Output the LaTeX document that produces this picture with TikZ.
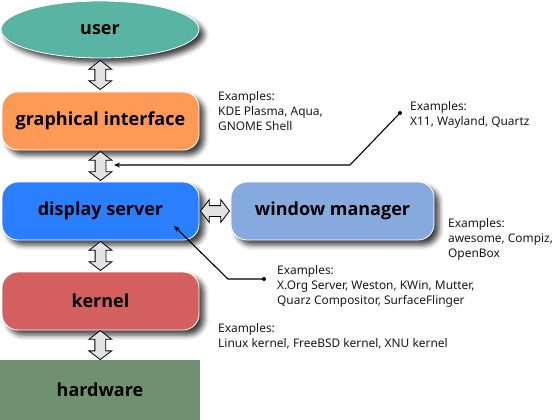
\documentclass[tikz,border=0pt]{standalone}
\usepackage{fontspec}
\setmainfont{Noto Sans}
\newfontfamily\labelfont{Open Sans}
\usetikzlibrary{shapes.geometric,shapes.arrows,shadows.blur,calc,arrows.meta}

\definecolor{userteal}{HTML}{5AB4A3}
\definecolor{guiorange}{HTML}{FF9955}
\definecolor{dsblue}{HTML}{2A7FFF}
\definecolor{wmblue}{HTML}{87AADE}
\definecolor{kernelred}{HTML}{D35F5F}
\definecolor{hwgreen}{HTML}{6F9170}
\definecolor{linkgray}{HTML}{E3E3E3}

\begin{document}
\begin{tikzpicture}[x=1pt,y=-1pt,
  layer/.style={font=\labelfont\bfseries\fontsize{18}{20}\selectfont, text=black, inner sep=0pt},
  softshadow/.style={blur shadow={shadow xshift=5pt, shadow yshift=-5pt,
      shadow blur radius=5pt, shadow opacity=75}},
  boxnode/.style={layer, rectangle, rounded corners=16pt, minimum width=197pt,
      minimum height=58pt, draw=white, line width=0.8pt, softshadow},
  link/.style={double arrow, draw=black, fill=linkgray, line width=0.8pt,
      minimum height=29pt, minimum width=22pt, double arrow head extend=6pt,
      inner sep=5pt, double arrow tip angle=105},
  note/.style={font=\fontsize{11.9}{15}\selectfont, align=left,
      anchor=north west, inner sep=0pt, text=black!90},
  pointer/.style={line width=1.1pt, -{Stealth[length=6pt,width=5pt]}},
  dot/.style={circle, fill=black, inner sep=0pt, minimum size=4pt}
]
\useasboundingbox (0,0) rectangle (560,420);

% layers of the graphics stack
\node[layer, ellipse, fill=userteal, minimum width=198pt, minimum height=57pt,
      draw=white, line width=0.8pt, softshadow] (user) at (100,29.5) {user};
\node[boxnode, fill=guiorange] (gui) at (100.5,121) {graphical interface};
\node[boxnode, fill=dsblue] (ds) at (100.5,211) {display server};
\node[boxnode, fill=wmblue, minimum width=203pt] (wm) at (332.5,211) {window manager};
\node[boxnode, fill=kernelred] (kernel) at (100.5,301) {kernel};
\node[layer, rectangle, fill=hwgreen, minimum width=200pt, minimum height=60pt]
      (hw) at (100,390) {hardware};

% two-way links between neighbouring layers
\node[link, rotate=90] (a1) at ($(user.south)!0.5!(gui.north)$) {};
\node[link, rotate=90] (a2) at ($(gui.south)!0.5!(ds.north)$) {};
\node[link, rotate=90] (a3) at ($(ds.south)!0.5!(kernel.north)$) {};
\node[link, rotate=90] (a4) at ($(kernel.south)!0.5!(hw.north)$) {};
\node[link] (a5) at ($(ds.east)!0.5!(wm.west)$) {};

% examples for each layer
\node[note] (ngui) at (218,91) {Examples:\\KDE Plasma, Aqua,\\GNOME Shell};
\node[note] (nproto) at (410,101) {Examples:\\X11, Wayland, Quartz};
\node[note] (nwm) at (448,218) {Examples:\\awesome, Compiz,\\OpenBox};
\node[note] (nds) at (277,265) {Examples:\\X.Org Server, Weston, KWin, Mutter,\\Quarz Compositor, SurfaceFlinger};
\node[note] (nkernel) at (218,323) {Examples:\\Linux kernel, FreeBSD kernel, XNU kernel};

% callout lines
\node[dot] (d1) at (400,113) {};
\coordinate (b1) at (350,165);
\coordinate (t1) at (114,165);
\draw[pointer] (d1.center) -- (b1) -- (t1);

\node[dot] (d2) at (264,279) {};
\coordinate (b2) at (228,279);
\coordinate (t2) at (174,226);
\draw[pointer] (d2.center) -- (b2) -- (t2);
\end{tikzpicture}
\end{document}
